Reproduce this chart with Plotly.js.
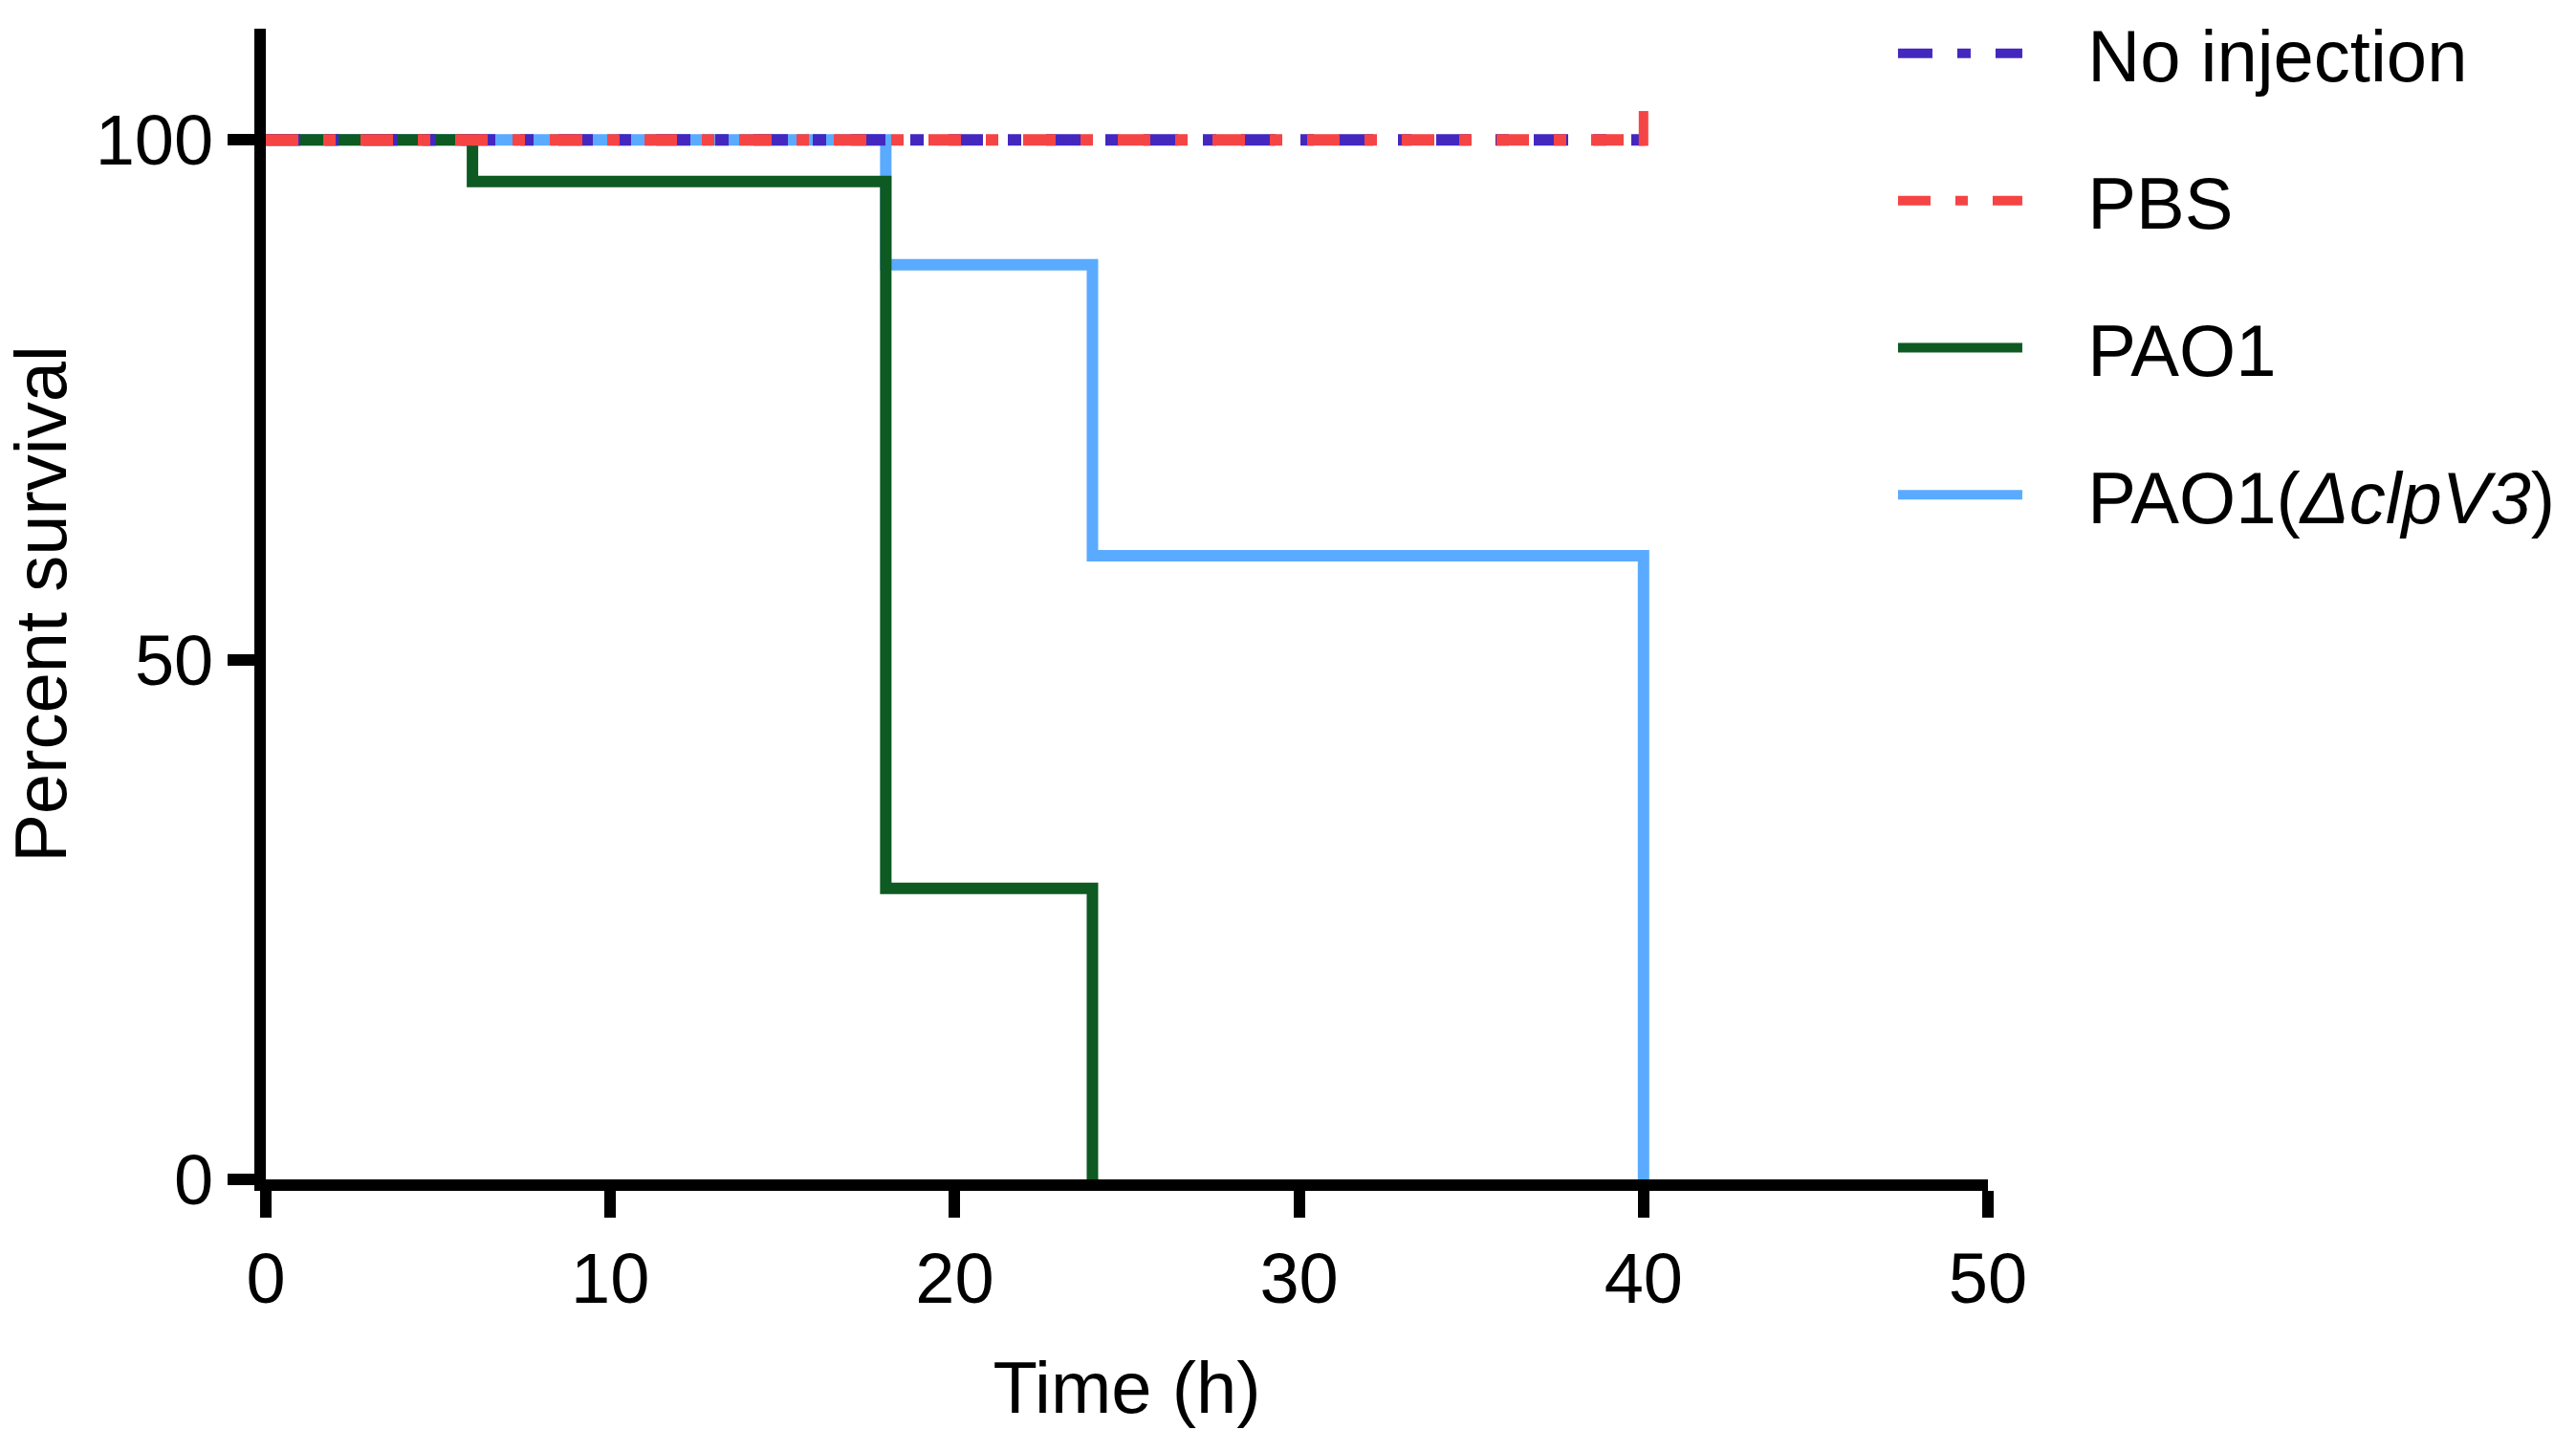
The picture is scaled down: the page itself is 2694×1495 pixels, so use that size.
<!DOCTYPE html>
<html>
<head>
<meta charset="utf-8">
<script src="https://cdn.plot.ly/plotly-3.0.1.min.js"></script>
<style>
  html, body { margin: 0; padding: 0; background: #ffffff; }
  #chart { width: 2694px; height: 1495px; }
</style>
</head>
<body>
<div id="chart"></div>
<script>
// survival curves, Time (h) vs Percent survival
var seriesNames = ['No injection', 'PBS', 'PAO1', 'PAO1(<i>\u0394clpV3</i>)'];

var noInjX = [0, 40];
var noInjY = [100, 100];

var pbsX = [0, 40];
var pbsY = [100, 100];

var pao1X = [0, 6, 18, 24];
var pao1Y = [100, 96, 28, 0];

var mutX = [0, 18, 24, 40];
var mutY = [100, 88, 60, 0];

// censored point on PBS curve
var censorX = [40];
var censorY = [100];

var xTicks = [0, 10, 20, 30, 40, 50];
var yTicks = [0, 50, 100];

var lw = 12;
// gap between legend line and its label
var pad = '\u00a0\u00a0\u00a0';

// draw order: blue, green, purple, red (red ends up on top)
var traceMut = {
  x: mutX, y: mutY, name: pad + seriesNames[3],
  type: 'scatter', mode: 'lines',
  line: {shape: 'hv', color: '#5AABFF', width: lw},
  legendrank: 4, legendgroup: 'd'
};
var tracePao1 = {
  x: pao1X, y: pao1Y, name: pad + seriesNames[2],
  type: 'scatter', mode: 'lines',
  line: {shape: 'hv', color: '#0D5A22', width: lw},
  legendrank: 3, legendgroup: 'c'
};
var traceNoInj = {
  x: noInjX, y: noInjY, name: pad + seriesNames[0],
  type: 'scatter', mode: 'lines',
  line: {shape: 'hv', color: '#4427BF', width: lw, dash: '36px,26px,14px,26px'},
  legendrank: 1, legendgroup: 'a'
};
var tracePbs = {
  x: pbsX, y: pbsY, name: pad + seriesNames[1],
  type: 'scatter', mode: 'lines',
  line: {shape: 'hv', color: '#F54444', width: lw, dash: '34px,26px,13px,26px'},
  legendrank: 2, legendgroup: 'b'
};
var traceCensor = {
  x: censorX, y: censorY,
  type: 'scatter', mode: 'markers', showlegend: false,
  marker: {symbol: 'line-ns', size: 26, standoff: 12, angle: 180,
           color: '#F54444', line: {color: '#F54444', width: 10}},
  hoverinfo: 'none'
};

var data = [traceMut, tracePao1, traceNoInj, tracePbs, traceCensor];

var fontFam = '"Liberation Sans", Arial, sans-serif';

var layout = {
  width: 2694,
  height: 1495,
  paper_bgcolor: '#ffffff',
  plot_bgcolor: '#ffffff',
  margin: {l: 278, r: 615, t: 30, b: 262, autoexpand: false},
  font: {family: fontFam, size: 76, color: '#000000'},
  showlegend: true,
  legend: {
    x: 0.945, xanchor: 'left',
    y: 1.025, yanchor: 'top',
    itemwidth: 130,
    tracegroupgap: 52,
    traceorder: 'grouped',
    font: {family: fontFam, size: 76, color: '#000000'},
    bgcolor: 'rgba(0,0,0,0)'
  },
  xaxis: {
    range: [0, 50],
    tickvals: xTicks,
    ticktext: xTicks.map(String),
    showgrid: false,
    zeroline: false,
    showline: true,
    linecolor: '#000000',
    linewidth: lw,
    ticks: 'outside',
    ticklen: 28,
    tickwidth: lw,
    tickcolor: '#000000',
    tickfont: {family: fontFam, size: 74, color: '#000000'},
    title: {text: 'Time (h)', standoff: 52, font: {family: fontFam, size: 76, color: '#000000'}},
    automargin: false
  },
  yaxis: {
    range: [0, 110.7],
    tickvals: yTicks,
    ticktext: yTicks.map(String),
    showgrid: false,
    zeroline: false,
    showline: true,
    linecolor: '#000000',
    linewidth: lw,
    ticks: 'outside',
    ticklen: 28,
    tickwidth: lw,
    tickcolor: '#000000',
    tickfont: {family: fontFam, size: 74, color: '#000000'},
    title: {text: 'Percent survival', standoff: 60, font: {family: fontFam, size: 76, color: '#000000'}},
    automargin: false
  }
};

var config = {responsive: false, displayModeBar: false, staticPlot: true};

Plotly.newPlot('chart', data, layout, config);
</script>
</body>
</html>
